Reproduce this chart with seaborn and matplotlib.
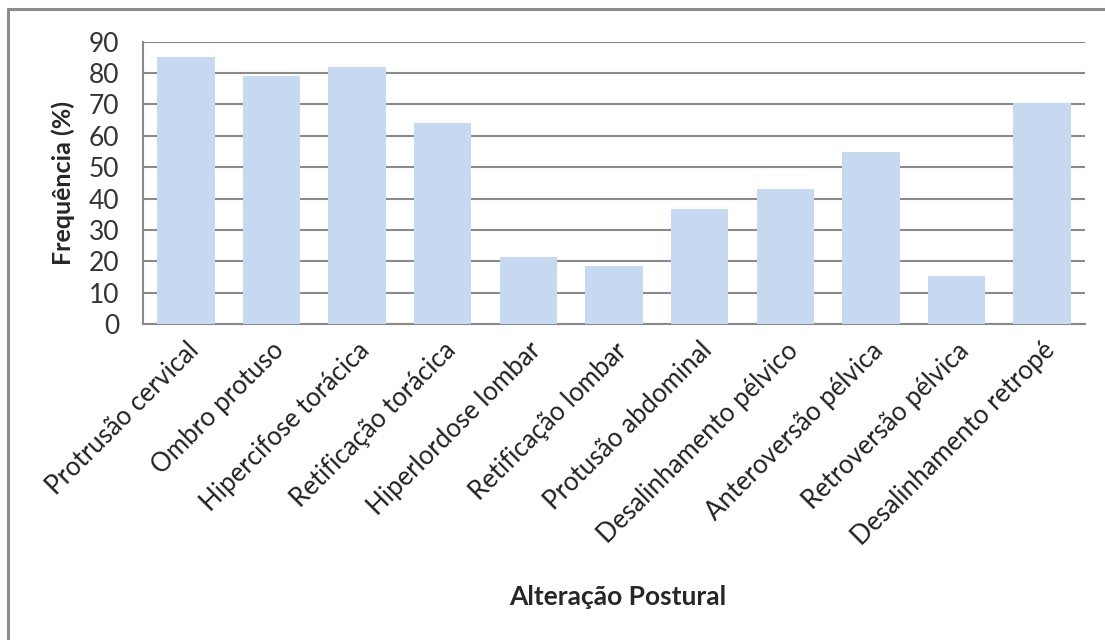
import matplotlib
matplotlib.use("Agg")
import matplotlib.pyplot as plt
from matplotlib.lines import Line2D
import seaborn as sns
import pandas as pd

categorias = [
    "Protrusão cervical", "Ombro protuso", "Hipercifose torácica",
    "Retificação torácica", "Hiperlordose lombar", "Retificação lombar",
    "Protusão abdominal", "Desalinhamento pélvico", "Anteroversão pélvica",
    "Retroversão pélvica", "Desalinhamento retropé",
]
frequencia = [85, 79, 82, 64, 21.3, 18.4, 36.7, 42.9, 54.8, 15.3, 70.3]
yticks = [0, 10, 20, 30, 40, 50, 60, 70, 80, 90]

df = pd.DataFrame({"categoria": categorias, "frequencia": frequencia})

sns.set_theme(style="white")
plt.rcParams["font.family"] = ["Lato", "DejaVu Sans"]

fig = plt.figure(figsize=(11.05, 6.4), dpi=100)
ax = fig.add_axes([143 / 1105, 1 - 324 / 640, (1085 - 143) / 1105, (324 - 41.7) / 640])

grid_color = "#8a8a8a"
sns.barplot(data=df, x="categoria", y="frequencia", color="#c6d9f1",
            saturation=1, width=0.67, ax=ax, zorder=3)
for b in ax.patches:
    b.set_edgecolor("none")

ax.set_ylim(0, 90)
ax.set_xlim(-0.5, len(categorias) - 0.5)
ax.set_yticks(yticks)
ax.set_yticklabels([str(v) for v in yticks], fontsize=19, color="#333333")
ax.yaxis.grid(True, color=grid_color, linewidth=1.5, zorder=0)
ax.set_axisbelow(True)
ax.tick_params(axis="both", length=0)
ax.tick_params(axis="y", pad=17)

ax.set_xticks(range(len(categorias)))
ax.set_xticklabels(categorias, rotation=45, ha="right", rotation_mode="anchor",
                   fontsize=18.5, color="#222222")
ax.tick_params(axis="x", pad=10)

for side in ["top", "right"]:
    ax.spines[side].set_visible(False)
for side in ["left", "bottom"]:
    ax.spines[side].set_color(grid_color)
    ax.spines[side].set_linewidth(1.5)

ax.set_ylabel("Frequência (%)", fontsize=18, fontweight="bold", labelpad=10)
ax.set_xlabel("")
fig.text(618 / 1105, 1 - 597 / 640, "Alteração Postural", fontsize=19,
         fontweight="bold", ha="center", va="center")

# chart-area frame (top and left edges)
frame = dict(color="#8c8c8c", linewidth=2.2, transform=fig.transFigure)
fig.add_artist(Line2D([8 / 1105, 1], [1 - 9 / 640, 1 - 9 / 640], **frame))
fig.add_artist(Line2D([8 / 1105, 8 / 1105], [0, 1 - 9 / 640], **frame))

fig.savefig("out.png", dpi=100, facecolor="white")
